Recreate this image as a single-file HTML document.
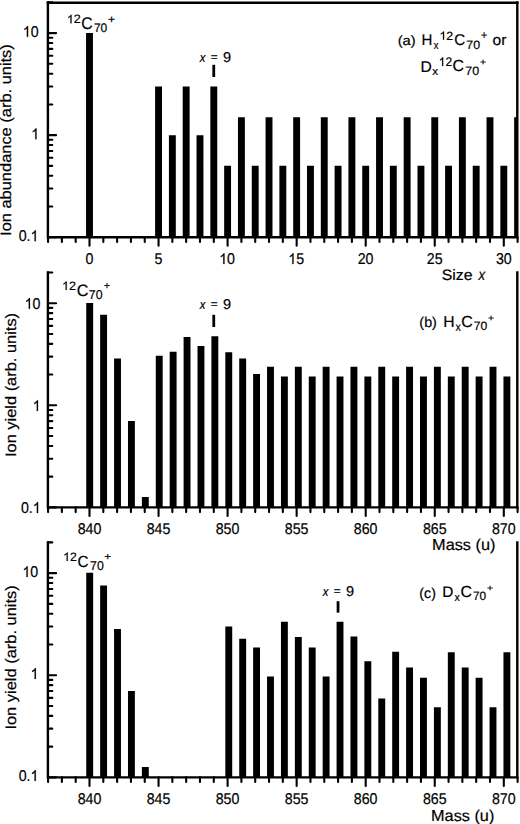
<!DOCTYPE html>
<html><head><meta charset="utf-8"><style>
html,body{margin:0;padding:0;background:#fff;}
svg{display:block;}
text{font-family:"Liberation Sans", sans-serif;text-rendering:geometricPrecision;fill:#000;stroke:#000;stroke-width:0.2px;}
</style></head><body>
<svg width="520" height="824" viewBox="0 0 520 824">
<rect width="520" height="824" fill="#fff"/>
<path d="M86.05,33.10H92.95V237.20H86.05ZM155.10,86.46H162.00V237.20H155.10ZM168.91,135.15H175.81V237.20H168.91ZM182.72,86.46H189.62V237.20H182.72ZM196.53,135.15H203.43V237.20H196.53ZM210.34,86.46H217.24V237.20H210.34ZM224.15,165.87H231.05V237.20H224.15ZM237.96,117.18H244.86V237.20H237.96ZM251.77,165.87H258.67V237.20H251.77ZM265.58,117.18H272.48V237.20H265.58ZM279.39,165.87H286.29V237.20H279.39ZM293.20,117.18H300.10V237.20H293.20ZM307.01,165.87H313.91V237.20H307.01ZM320.82,117.18H327.72V237.20H320.82ZM334.63,165.87H341.53V237.20H334.63ZM348.44,117.18H355.34V237.20H348.44ZM362.25,165.87H369.15V237.20H362.25ZM376.06,117.18H382.96V237.20H376.06ZM389.87,165.87H396.77V237.20H389.87ZM403.68,117.18H410.58V237.20H403.68ZM417.49,165.87H424.39V237.20H417.49ZM431.30,117.18H438.20V237.20H431.30ZM445.11,165.87H452.01V237.20H445.11ZM458.92,117.18H465.82V237.20H458.92ZM472.73,165.87H479.63V237.20H472.73ZM486.54,117.18H493.44V237.20H486.54ZM500.35,165.87H507.25V237.20H500.35ZM514.16,117.18H517.30V237.20H514.16Z"/>
<path d="M47.9,2.38V237.20H517.3M517.3,2.38V237.20" fill="none" stroke="#000" stroke-width="2.4" stroke-linecap="square"/>
<path d="M46.699999999999996,2.75H518.5" fill="none" stroke="#000" stroke-width="2.5"/>
<path d="M47.9,237.20h8.2M47.9,206.48h4.4M47.9,188.51h4.4M47.9,175.76h4.4M47.9,165.87h4.4M47.9,157.79h4.4M47.9,150.96h4.4M47.9,145.04h4.4M47.9,139.82h4.4M47.9,135.15h8.2M47.9,104.43h4.4M47.9,86.46h4.4M47.9,73.71h4.4M47.9,63.82h4.4M47.9,55.74h4.4M47.9,48.91h4.4M47.9,42.99h4.4M47.9,37.77h4.4M47.9,33.10h8.2M47.9,2.38h4.4" fill="none" stroke="#000" stroke-width="2.1" stroke-linecap="round"/>
<path d="M48.07,237.20v4.7M61.88,237.20v4.7M75.69,237.20v4.7M89.50,237.20v8.6M103.31,237.20v4.7M117.12,237.20v4.7M130.93,237.20v4.7M144.74,237.20v4.7M158.55,237.20v8.6M172.36,237.20v4.7M186.17,237.20v4.7M199.98,237.20v4.7M213.79,237.20v4.7M227.60,237.20v8.6M241.41,237.20v4.7M255.22,237.20v4.7M269.03,237.20v4.7M282.84,237.20v4.7M296.65,237.20v8.6M310.46,237.20v4.7M324.27,237.20v4.7M338.08,237.20v4.7M351.89,237.20v4.7M365.70,237.20v8.6M379.51,237.20v4.7M393.32,237.20v4.7M407.13,237.20v4.7M420.94,237.20v4.7M434.75,237.20v8.6M448.56,237.20v4.7M462.37,237.20v4.7M476.18,237.20v4.7M489.99,237.20v4.7M503.80,237.20v8.6M517.61,237.20v4.7" fill="none" stroke="#000" stroke-width="2.1" stroke-linecap="round"/>
<path transform="translate(22.81,36.87) scale(0.00693,-0.00740)" d="M763,0H583V1147Q518,1085 412,1023Q306,961 222,930V1104Q373,1175 486,1276Q599,1377 646,1472H763Z" stroke="#000" stroke-width="0.2" vector-effect="non-scaling-stroke"/>
<text transform="translate(30.71,36.87) scale(0.910,1)" font-size="15.60">0</text>
<path transform="translate(31.24,139.15) scale(0.00693,-0.00740)" d="M763,0H583V1147Q518,1085 412,1023Q306,961 222,930V1104Q373,1175 486,1276Q599,1377 646,1472H763Z" stroke="#000" stroke-width="0.2" vector-effect="non-scaling-stroke"/>
<text transform="translate(18.66,241.17) scale(0.910,1)" font-size="15.60">0.</text>
<path transform="translate(30.50,241.17) scale(0.00693,-0.00740)" d="M763,0H583V1147Q518,1085 412,1023Q306,961 222,930V1104Q373,1175 486,1276Q599,1377 646,1472H763Z" stroke="#000" stroke-width="0.2" vector-effect="non-scaling-stroke"/>
<text transform="translate(85.55,264.07) scale(0.910,1)" font-size="15.60">0</text>
<text transform="translate(154.62,263.99) scale(0.910,1)" font-size="15.60">5</text>
<path transform="translate(219.21,264.07) scale(0.00693,-0.00740)" d="M763,0H583V1147Q518,1085 412,1023Q306,961 222,930V1104Q373,1175 486,1276Q599,1377 646,1472H763Z" stroke="#000" stroke-width="0.2" vector-effect="non-scaling-stroke"/>
<text transform="translate(227.11,264.07) scale(0.910,1)" font-size="15.60">0</text>
<path transform="translate(288.28,264.07) scale(0.00693,-0.00740)" d="M763,0H583V1147Q518,1085 412,1023Q306,961 222,930V1104Q373,1175 486,1276Q599,1377 646,1472H763Z" stroke="#000" stroke-width="0.2" vector-effect="non-scaling-stroke"/>
<text transform="translate(296.18,264.07) scale(0.910,1)" font-size="15.60">5</text>
<text transform="translate(357.73,264.07) scale(0.910,1)" font-size="15.60">20</text>
<text transform="translate(426.80,264.07) scale(0.910,1)" font-size="15.60">25</text>
<text transform="translate(495.91,264.07) scale(0.910,1)" font-size="15.60">30</text>
<path d="M86.25,302.90h6.9V507.40h-6.9ZM100.16,314.75h6.9V507.40h-6.9ZM114.06,358.50h6.9V507.40h-6.9ZM127.97,420.90h6.9V507.40h-6.9ZM141.88,496.90h6.9V507.40h-6.9ZM155.79,355.80h6.9V507.40h-6.9ZM169.69,351.80h6.9V507.40h-6.9ZM183.60,337.10h6.9V507.40h-6.9ZM197.51,346.00h6.9V507.40h-6.9ZM211.41,336.20h6.9V507.40h-6.9ZM225.32,352.30h6.9V507.40h-6.9ZM239.23,358.50h6.9V507.40h-6.9ZM253.13,374.00h6.9V507.40h-6.9ZM267.04,366.80h6.9V507.40h-6.9ZM280.95,376.50h6.9V507.40h-6.9ZM294.86,366.80h6.9V507.40h-6.9ZM308.76,376.50h6.9V507.40h-6.9ZM322.67,366.80h6.9V507.40h-6.9ZM336.58,376.50h6.9V507.40h-6.9ZM350.48,366.80h6.9V507.40h-6.9ZM364.39,376.50h6.9V507.40h-6.9ZM378.30,366.80h6.9V507.40h-6.9ZM392.20,376.50h6.9V507.40h-6.9ZM406.11,366.80h6.9V507.40h-6.9ZM420.02,376.50h6.9V507.40h-6.9ZM433.93,366.80h6.9V507.40h-6.9ZM447.83,376.50h6.9V507.40h-6.9ZM461.74,366.80h6.9V507.40h-6.9ZM475.65,376.50h6.9V507.40h-6.9ZM489.55,366.80h6.9V507.40h-6.9ZM503.46,376.50h6.9V507.40h-6.9Z"/>
<path d="M47.9,272.46V507.40H517.3M517.3,272.46V507.40" fill="none" stroke="#000" stroke-width="2.4" stroke-linecap="square"/>
<path d="M47.9,507.40h8.2M47.9,476.66h4.4M47.9,458.69h4.4M47.9,445.93h4.4M47.9,436.04h4.4M47.9,427.95h4.4M47.9,421.12h4.4M47.9,415.19h4.4M47.9,409.97h4.4M47.9,405.30h8.2M47.9,374.56h4.4M47.9,356.59h4.4M47.9,343.83h4.4M47.9,333.94h4.4M47.9,325.85h4.4M47.9,319.02h4.4M47.9,313.09h4.4M47.9,307.87h4.4M47.9,303.20h8.2M47.9,272.46h4.4" fill="none" stroke="#000" stroke-width="2.1" stroke-linecap="round"/>
<path d="M48.07,507.40v4.7M61.88,507.40v4.7M75.69,507.40v4.7M89.50,507.40v8.6M103.31,507.40v4.7M117.12,507.40v4.7M130.93,507.40v4.7M144.74,507.40v4.7M158.55,507.40v8.6M172.36,507.40v4.7M186.17,507.40v4.7M199.98,507.40v4.7M213.79,507.40v4.7M227.60,507.40v8.6M241.41,507.40v4.7M255.22,507.40v4.7M269.03,507.40v4.7M282.84,507.40v4.7M296.65,507.40v8.6M310.46,507.40v4.7M324.27,507.40v4.7M338.08,507.40v4.7M351.89,507.40v4.7M365.70,507.40v8.6M379.51,507.40v4.7M393.32,507.40v4.7M407.13,507.40v4.7M420.94,507.40v4.7M434.75,507.40v8.6M448.56,507.40v4.7M462.37,507.40v4.7M476.18,507.40v4.7M489.99,507.40v4.7M503.80,507.40v8.6M517.61,507.40v4.7" fill="none" stroke="#000" stroke-width="2.1" stroke-linecap="round"/>
<path transform="translate(24.71,308.87) scale(0.00693,-0.00740)" d="M763,0H583V1147Q518,1085 412,1023Q306,961 222,930V1104Q373,1175 486,1276Q599,1377 646,1472H763Z" stroke="#000" stroke-width="0.2" vector-effect="non-scaling-stroke"/>
<text transform="translate(32.61,308.87) scale(0.910,1)" font-size="15.60">0</text>
<path transform="translate(32.74,411.05) scale(0.00693,-0.00740)" d="M763,0H583V1147Q518,1085 412,1023Q306,961 222,930V1104Q373,1175 486,1276Q599,1377 646,1472H763Z" stroke="#000" stroke-width="0.2" vector-effect="non-scaling-stroke"/>
<text transform="translate(20.96,512.97) scale(0.910,1)" font-size="15.60">0.</text>
<path transform="translate(32.80,512.97) scale(0.00693,-0.00740)" d="M763,0H583V1147Q518,1085 412,1023Q306,961 222,930V1104Q373,1175 486,1276Q599,1377 646,1472H763Z" stroke="#000" stroke-width="0.2" vector-effect="non-scaling-stroke"/>
<text transform="translate(77.63,534.17) scale(0.910,1)" font-size="15.60">840</text>
<text transform="translate(146.70,534.17) scale(0.910,1)" font-size="15.60">845</text>
<text transform="translate(215.73,534.17) scale(0.910,1)" font-size="15.60">850</text>
<text transform="translate(284.80,534.17) scale(0.910,1)" font-size="15.60">855</text>
<text transform="translate(353.83,534.17) scale(0.910,1)" font-size="15.60">860</text>
<text transform="translate(422.90,534.17) scale(0.910,1)" font-size="15.60">865</text>
<text transform="translate(491.93,534.17) scale(0.910,1)" font-size="15.60">870</text>
<path d="M86.25,572.80h6.9V777.35h-6.9ZM100.16,585.40h6.9V777.35h-6.9ZM114.06,628.90h6.9V777.35h-6.9ZM127.97,691.10h6.9V777.35h-6.9ZM141.88,766.90h6.9V777.35h-6.9ZM225.32,626.50h6.9V777.35h-6.9ZM239.23,638.75h6.9V777.35h-6.9ZM253.13,647.50h6.9V777.35h-6.9ZM267.04,676.50h6.9V777.35h-6.9ZM280.95,621.75h6.9V777.35h-6.9ZM294.86,637.00h6.9V777.35h-6.9ZM308.76,647.50h6.9V777.35h-6.9ZM322.67,676.50h6.9V777.35h-6.9ZM336.58,621.75h6.9V777.35h-6.9ZM350.48,636.60h6.9V777.35h-6.9ZM364.39,661.20h6.9V777.35h-6.9ZM378.30,698.60h6.9V777.35h-6.9ZM392.20,651.80h6.9V777.35h-6.9ZM406.11,667.40h6.9V777.35h-6.9ZM420.02,677.80h6.9V777.35h-6.9ZM433.93,707.20h6.9V777.35h-6.9ZM447.83,652.20h6.9V777.35h-6.9ZM461.74,667.40h6.9V777.35h-6.9ZM475.65,677.80h6.9V777.35h-6.9ZM489.55,707.20h6.9V777.35h-6.9ZM503.46,652.20h6.9V777.35h-6.9Z"/>
<path d="M47.9,542.41V777.35H517.3M517.3,542.41V777.35" fill="none" stroke="#000" stroke-width="2.4" stroke-linecap="square"/>
<path d="M47.9,777.35h8.2M47.9,746.61h4.4M47.9,728.64h4.4M47.9,715.88h4.4M47.9,705.99h4.4M47.9,697.90h4.4M47.9,691.07h4.4M47.9,685.14h4.4M47.9,679.92h4.4M47.9,675.25h8.2M47.9,644.51h4.4M47.9,626.54h4.4M47.9,613.78h4.4M47.9,603.89h4.4M47.9,595.80h4.4M47.9,588.97h4.4M47.9,583.04h4.4M47.9,577.82h4.4M47.9,573.15h8.2M47.9,542.41h4.4" fill="none" stroke="#000" stroke-width="2.1" stroke-linecap="round"/>
<path d="M48.07,777.35v4.7M61.88,777.35v4.7M75.69,777.35v4.7M89.50,777.35v8.6M103.31,777.35v4.7M117.12,777.35v4.7M130.93,777.35v4.7M144.74,777.35v4.7M158.55,777.35v8.6M172.36,777.35v4.7M186.17,777.35v4.7M199.98,777.35v4.7M213.79,777.35v4.7M227.60,777.35v8.6M241.41,777.35v4.7M255.22,777.35v4.7M269.03,777.35v4.7M282.84,777.35v4.7M296.65,777.35v8.6M310.46,777.35v4.7M324.27,777.35v4.7M338.08,777.35v4.7M351.89,777.35v4.7M365.70,777.35v8.6M379.51,777.35v4.7M393.32,777.35v4.7M407.13,777.35v4.7M420.94,777.35v4.7M434.75,777.35v8.6M448.56,777.35v4.7M462.37,777.35v4.7M476.18,777.35v4.7M489.99,777.35v4.7M503.80,777.35v8.6M517.61,777.35v4.7" fill="none" stroke="#000" stroke-width="2.1" stroke-linecap="round"/>
<path transform="translate(22.41,577.07) scale(0.00693,-0.00740)" d="M763,0H583V1147Q518,1085 412,1023Q306,961 222,930V1104Q373,1175 486,1276Q599,1377 646,1472H763Z" stroke="#000" stroke-width="0.2" vector-effect="non-scaling-stroke"/>
<text transform="translate(30.31,577.07) scale(0.910,1)" font-size="15.60">0</text>
<path transform="translate(30.59,678.95) scale(0.00693,-0.00740)" d="M763,0H583V1147Q518,1085 412,1023Q306,961 222,930V1104Q373,1175 486,1276Q599,1377 646,1472H763Z" stroke="#000" stroke-width="0.2" vector-effect="non-scaling-stroke"/>
<text transform="translate(18.66,780.97) scale(0.910,1)" font-size="15.60">0.</text>
<path transform="translate(30.50,780.97) scale(0.00693,-0.00740)" d="M763,0H583V1147Q518,1085 412,1023Q306,961 222,930V1104Q373,1175 486,1276Q599,1377 646,1472H763Z" stroke="#000" stroke-width="0.2" vector-effect="non-scaling-stroke"/>
<text transform="translate(77.63,804.17) scale(0.910,1)" font-size="15.60">840</text>
<text transform="translate(146.70,804.17) scale(0.910,1)" font-size="15.60">845</text>
<text transform="translate(215.73,804.17) scale(0.910,1)" font-size="15.60">850</text>
<text transform="translate(284.80,804.17) scale(0.910,1)" font-size="15.60">855</text>
<text transform="translate(353.83,804.17) scale(0.910,1)" font-size="15.60">860</text>
<text transform="translate(422.90,804.17) scale(0.910,1)" font-size="15.60">865</text>
<text transform="translate(491.93,804.17) scale(0.910,1)" font-size="15.60">870</text>
<text transform="translate(11.30,235.92) rotate(-90) scale(1,0.925)" font-size="16.43">Ion abundance (arb. units)</text>
<text transform="translate(15.70,457.02) rotate(-90) scale(1,0.925)" font-size="16.42">Ion yield (arb. units)</text>
<text transform="translate(15.60,729.62) rotate(-90) scale(1,0.925)" font-size="16.46">Ion yield (arb. units)</text>
<text transform="translate(441.78,280.05) scale(1.048,1)" font-size="15.11">Size</text>
<text transform="translate(478.57,280.20) scale(0.850,1)" font-size="15.52" font-style="italic">x</text>
<text transform="translate(432.06,550.21) scale(1.027,1)" font-size="15.89">Mass (u)</text>
<text transform="translate(431.07,820.51) scale(1.024,1)" font-size="15.89">Mass (u)</text>
<path transform="translate(66.89,23.30) scale(0.00612,-0.00577)" d="M763,0H583V1147Q518,1085 412,1023Q306,961 222,930V1104Q373,1175 486,1276Q599,1377 646,1472H763Z" stroke="#000" stroke-width="0.2" vector-effect="non-scaling-stroke"/>
<text transform="translate(73.86,23.30) scale(1.029,1)" font-size="12.17">2</text>
<text transform="translate(81.30,29.23) scale(0.932,1)" font-size="16.95">C</text>
<text transform="translate(93.88,32.18) scale(0.968,1)" font-size="12.43">70</text>
<text transform="translate(108.11,22.87) scale(1.100,1)" font-size="11.04">+</text>
<path transform="translate(62.04,289.90) scale(0.00614,-0.00577)" d="M763,0H583V1147Q518,1085 412,1023Q306,961 222,930V1104Q373,1175 486,1276Q599,1377 646,1472H763Z" stroke="#000" stroke-width="0.2" vector-effect="non-scaling-stroke"/>
<text transform="translate(69.03,289.90) scale(1.034,1)" font-size="12.17">2</text>
<text transform="translate(76.67,295.84) scale(0.984,1)" font-size="16.53">C</text>
<text transform="translate(88.87,299.07) scale(0.959,1)" font-size="12.85">70</text>
<text transform="translate(103.77,289.42) scale(1.047,1)" font-size="10.42">+</text>
<path transform="translate(63.17,560.90) scale(0.00599,-0.00577)" d="M763,0H583V1147Q518,1085 412,1023Q306,961 222,930V1104Q373,1175 486,1276Q599,1377 646,1472H763Z" stroke="#000" stroke-width="0.2" vector-effect="non-scaling-stroke"/>
<text transform="translate(69.99,560.90) scale(1.008,1)" font-size="12.17">2</text>
<text transform="translate(77.62,566.84) scale(0.951,1)" font-size="16.10">C</text>
<text transform="translate(90.07,570.07) scale(0.959,1)" font-size="12.85">70</text>
<text transform="translate(104.23,560.42) scale(1.126,1)" font-size="10.42">+</text>
<text transform="translate(199.74,61.70) scale(0.850,1)" font-size="13.25" font-style="italic">x</text>
<text x="210.79" y="60.99" font-size="11.86">=</text>
<text transform="translate(222.92,61.96) scale(1.017,1)" font-size="14.27">9</text>
<path d="M213.75,64.80V77.00" stroke="#000" stroke-width="2.8"/>
<text transform="translate(199.74,308.90) scale(0.850,1)" font-size="13.25" font-style="italic">x</text>
<text x="210.79" y="308.19" font-size="11.86">=</text>
<text transform="translate(222.92,309.16) scale(1.017,1)" font-size="14.27">9</text>
<path d="M213.75,314.80V327.00" stroke="#000" stroke-width="2.8"/>
<text transform="translate(322.79,595.90) scale(0.850,1)" font-size="13.25" font-style="italic">x</text>
<text x="333.84" y="595.19" font-size="11.86">=</text>
<text transform="translate(345.97,596.16) scale(1.017,1)" font-size="14.27">9</text>
<path d="M338.05,601.20V612.70" stroke="#000" stroke-width="2.8"/>
<text transform="translate(397.69,44.70) scale(1.084,1)" font-size="13.52">(a)</text>
<text transform="translate(421.57,45.10) scale(0.976,1)" font-size="15.41">H</text>
<text transform="translate(433.87,48.70) scale(0.850,1)" font-size="11.17">x</text>
<path transform="translate(439.46,39.70) scale(0.00604,-0.00564)" d="M763,0H583V1147Q518,1085 412,1023Q306,961 222,930V1104Q373,1175 486,1276Q599,1377 646,1472H763Z" stroke="#000" stroke-width="0.2" vector-effect="non-scaling-stroke"/>
<text transform="translate(446.34,39.70) scale(1.041,1)" font-size="11.89">2</text>
<text transform="translate(454.13,45.45) scale(0.976,1)" font-size="15.54">C</text>
<text transform="translate(466.26,48.68) scale(1.023,1)" font-size="12.15">70</text>
<text transform="translate(480.88,39.42) scale(0.919,1)" font-size="11.65">+</text>
<text transform="translate(492.59,45.35) scale(1.039,1)" font-size="15.06">or</text>
<text x="420.47" y="71.50" font-size="15.63">D</text>
<text transform="translate(432.37,75.00) scale(1.013,1)" font-size="11.36">x</text>
<path transform="translate(438.69,66.00) scale(0.00589,-0.00594)" d="M763,0H583V1147Q518,1085 412,1023Q306,961 222,930V1104Q373,1175 486,1276Q599,1377 646,1472H763Z" stroke="#000" stroke-width="0.2" vector-effect="non-scaling-stroke"/>
<text transform="translate(445.40,66.00) scale(0.962,1)" font-size="12.53">2</text>
<text x="452.39" y="71.44" font-size="15.96">C</text>
<text transform="translate(465.26,74.88) scale(1.031,1)" font-size="12.15">70</text>
<text transform="translate(479.88,65.49) scale(1.150,1)" font-size="8.99">+</text>
<text transform="translate(419.36,327.31) scale(1.008,1)" font-size="14.22">(b)</text>
<text x="443.21" y="327.10" font-size="15.70">H</text>
<text transform="translate(455.38,331.10) scale(0.867,1)" font-size="12.30">x</text>
<text x="461.19" y="326.94" font-size="15.96">C</text>
<text x="473.68" y="330.48" font-size="12.15">70</text>
<text transform="translate(488.08,320.59) scale(1.150,1)" font-size="8.99">+</text>
<text transform="translate(419.37,597.50) scale(0.977,1)" font-size="14.49">(c)</text>
<text transform="translate(442.14,597.10) scale(1.007,1)" font-size="15.26">D</text>
<text transform="translate(454.48,600.60) scale(0.939,1)" font-size="11.36">x</text>
<text x="460.39" y="596.94" font-size="15.96">C</text>
<text transform="translate(472.89,600.48) scale(0.975,1)" font-size="12.15">70</text>
<text transform="translate(487.08,590.59) scale(1.150,1)" font-size="8.99">+</text>
</svg>
</body></html>
